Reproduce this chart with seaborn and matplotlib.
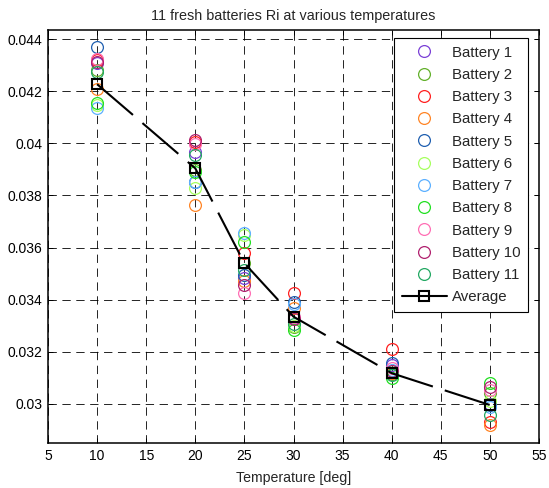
import numpy as np
import pandas as pd
import matplotlib
matplotlib.use("Agg")
import matplotlib.pyplot as plt
from matplotlib.ticker import FuncFormatter, MultipleLocator
from matplotlib.lines import Line2D
import seaborn as sns

temps = [10, 20, 25, 30, 40, 50]
b1 = [0.04307, 0.03968, 0.03482, 0.03330, 0.03150, 0.03000]
b2 = [0.04280, 0.03898, 0.03540, 0.03295, 0.03115, 0.03041]
b3 = [0.04320, 0.04005, 0.03578, 0.03424, 0.03210, 0.02932]
b4 = [0.04207, 0.03763, 0.03473, 0.03367, 0.03120, 0.02919]
b5 = [0.04368, 0.03853, 0.03495, 0.03390, 0.03156, 0.02996]
b6 = [0.04147, 0.03827, 0.03648, 0.03300, 0.03125, 0.03010]
b7 = [0.04134, 0.03850, 0.03657, 0.03385, 0.03130, 0.02990]
b8 = [0.04153, 0.03890, 0.03622, 0.03284, 0.03099, 0.03082]
b9 = [0.04325, 0.03998, 0.03424, 0.03335, 0.03137, 0.03054]
b10 = [0.04312, 0.04012, 0.03456, 0.03325, 0.03128, 0.03066]
b11 = [0.04275, 0.03955, 0.03514, 0.03305, 0.03112, 0.02958]
average = [0.04227, 0.03904, 0.03540, 0.03335, 0.03118, 0.02996]

names = [f"Battery {i}" for i in range(1, 12)]
series = [b1, b2, b3, b4, b5, b6, b7, b8, b9, b10, b11]
colors = ["#7a3fd6", "#62b02a", "#ff2020", "#ff8424", "#1f5fb0", "#a6ff5e",
          "#5cb0ff", "#22e022", "#ff6eb4", "#b0206e", "#22a862"]

sns.set_style("ticks")
plt.rcParams["font.family"] = ["Liberation Sans", "DejaVu Sans"]
plt.rcParams["lines.scale_dashes"] = False

fig = plt.figure(figsize=(5.49, 4.88), dpi=100)
ax = fig.add_axes([48/549, 1-443.3/488, (539-48)/549, (443.3-30)/488])

for name, vals, c in zip(names, series, colors):
    df = pd.DataFrame({"T": temps, "R": vals})
    sns.lineplot(data=df, x="T", y="R", ax=ax, color=c, marker="o",
                 linestyle="", mfc="none", mec=c, ms=8.5, mew=0.9,
                 errorbar=None, zorder=3)

dfa = pd.DataFrame({"T": temps, "R": average})
sns.lineplot(data=dfa, x="T", y="R", ax=ax, color="k", marker="s",
             linestyle=(0, (34, 9)), linewidth=1.5, mfc="none", mec="k",
             ms=7.5, mew=1.5, errorbar=None, zorder=4)

ax.set_xlim(5, 55)
ax.set_ylim(0.02849, 0.04435)
ax.xaxis.set_major_locator(MultipleLocator(5))
ax.yaxis.set_major_locator(MultipleLocator(0.002))
ax.yaxis.set_major_formatter(FuncFormatter(lambda v, p: f"{v:.3f}".rstrip("0")))
ax.tick_params(direction="in", top=True, right=True, length=3.5, width=0.7,
               labelsize=10, colors="k", pad=4)
ax.grid(True, color="k", linestyle=(0, (6, 4)), linewidth=0.6)
for s in ax.spines.values():
    s.set_visible(True)
    s.set_color("k")
    s.set_linewidth(1.1)

ax.set_title("11 fresh batteries Ri at various temperatures", fontsize=10.4, pad=7)
ax.set_xlabel("Temperature [deg]", fontsize=10.2, labelpad=6)
ax.set_ylabel("")

handles = [Line2D([], [], color=c, marker="o", linestyle="", mfc="none",
                  mec=c, ms=8.5, mew=0.9) for c in colors]
handles.append(Line2D([], [], color="k", marker="s", linestyle="-",
                      linewidth=1.5, mfc="none", mec="k", ms=7.5, mew=1.5))
leg = ax.legend(handles, names + ["Average"], loc="upper right",
                bbox_to_anchor=(0.9776, 0.9806), borderaxespad=0,
                fontsize=10.8, labelspacing=0.55, handlelength=3.0,
                handletextpad=0.33, borderpad=0.5, fancybox=False,
                framealpha=1, edgecolor="k")
leg.get_frame().set_linewidth(0.8)

fig.savefig("out.png", dpi=100, facecolor="white")
